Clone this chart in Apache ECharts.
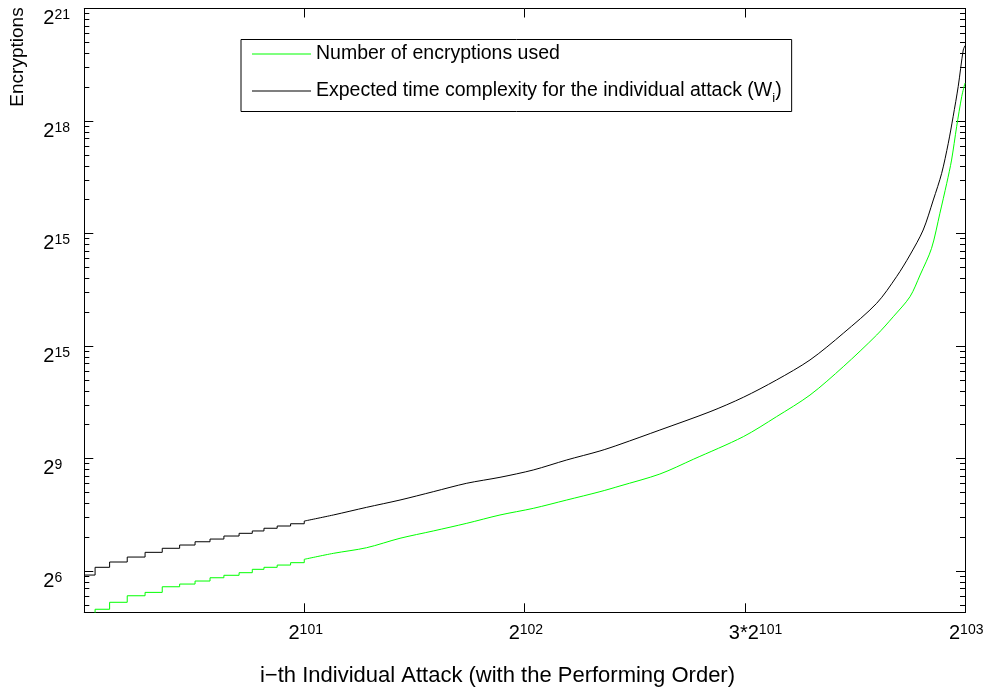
<!DOCTYPE html>
<html>
<head>
<meta charset="utf-8">
<script src="https://cdn.jsdelivr.net/npm/echarts@6/dist/echarts.min.js"></script>
<style>
  html, body { margin: 0; padding: 0; background: #fff; }
  #chart { width: 995px; height: 698px; }
</style>
</head>
<body>
<div id="chart"></div>
<script>
// x is in units of 2^101, y is in decades of the log axis (tick 1 = "2^6" ... tick 6 = "2^21")
const stepX = [0, 0.049, 0.115, 0.195, 0.276, 0.354, 0.433, 0.503, 0.571, 0.634, 0.703, 0.763, 0.816, 0.876, 0.937, 0.999];
const expectedSteps = [0.964, 1.033, 1.080, 1.124, 1.166, 1.202, 1.231, 1.260, 1.284, 1.311, 1.335, 1.356, 1.380, 1.400, 1.420, 1.444];
const usedSteps = [0.600, 0.660, 0.722, 0.780, 0.810, 0.860, 0.884, 0.911, 0.940, 0.962, 0.985, 1.015, 1.033, 1.053, 1.074, 1.104];

const expectedX = [0.999, 1.131, 1.282, 1.434, 1.585, 1.737, 1.888, 2.039, 2.191, 2.342, 2.433, 2.614, 2.842, 2.993, 3.144, 3.296, 3.447, 3.599, 3.689, 3.750, 3.810, 3.856, 3.894, 3.924, 3.946, 3.969, 3.992, 4.0];
const expectedCurve = [1.444, 1.498, 1.566, 1.631, 1.705, 1.780, 1.833, 1.898, 1.987, 2.067, 2.126, 2.253, 2.416, 2.544, 2.698, 2.876, 3.113, 3.380, 3.616, 3.809, 4.031, 4.298, 4.535, 4.802, 5.038, 5.305, 5.631, 5.670];

const usedX = [0.999, 1.131, 1.282, 1.434, 1.585, 1.737, 1.888, 2.039, 2.191, 2.342, 2.433, 2.614, 2.766, 2.993, 3.144, 3.296, 3.447, 3.599, 3.674, 3.750, 3.796, 3.848, 3.886, 3.917, 3.939, 3.962, 3.985, 4.0];
const usedCurve = [1.104, 1.157, 1.207, 1.291, 1.356, 1.424, 1.498, 1.557, 1.631, 1.705, 1.756, 1.862, 1.993, 2.194, 2.372, 2.564, 2.816, 3.098, 3.260, 3.438, 3.631, 3.868, 4.180, 4.446, 4.653, 4.949, 5.216, 5.338];

const yTickValues = [1, 2, 3, 4, 5, 6];
const yTickExp = ['6', '9', '15', '15', '18', '21'];
const xTickValues = [1, 2, 3, 4];
const xTickBase = ['2', '2', '3*2', '2'];
const xTickExp = ['101', '102', '101', '103'];

const usedName = 'Number of encryptions used';
const expectedName = 'Expected time complexity for the individual attack (Wi)';

const yMin = 0.633, yMax = 6;
const font = '"Liberation Sans", Arial, Helvetica, sans-serif';

// minor ticks of a base-10 log axis
const yMinor = [];
for (let k = 0; k < 6; k++) {
  for (let n = 2; n <= 9; n++) {
    const v = k + Math.log10(n);
    if (v > yMin && v < yMax) yMinor.push(v);
  }
}

const pair = (xs, ys) => xs.map((x, i) => [x, ys[i]]);

const tickRich = {
  b: { fontSize: 20, lineHeight: 20, padding: [5, 0, 0, 0], fontFamily: font, color: '#000', verticalAlign: 'bottom' },
  sup: { fontSize: 14, lineHeight: 14, fontFamily: font, color: '#000', verticalAlign: 'top' }
};

const line = { show: true, onZero: false, lineStyle: { color: '#000', width: 1 } };

function yAxis(pos, ticks, len, labels) {
  return {
    type: 'value', position: pos, min: yMin, max: yMax,
    axisLine: line,
    splitLine: { show: false },
    axisTick: { show: true, inside: true, length: len, customValues: ticks, lineStyle: { color: '#000' } },
    axisLabel: labels ? {
      show: true, customValues: yTickValues, align: 'left', verticalAlign: 'top', margin: 41,
      rich: tickRich,
      formatter: v => '{b|2}{sup|' + yTickExp[yTickValues.indexOf(v)] + '}'
    } : { show: false }
  };
}

function xAxis(pos, labels) {
  return {
    type: 'value', position: pos, min: 0, max: 4,
    axisLine: line,
    splitLine: { show: false },
    axisTick: { show: true, inside: true, length: 9, customValues: xTickValues, lineStyle: { color: '#000' } },
    axisLabel: labels ? {
      show: true, customValues: xTickValues, align: 'left', margin: 11,
      padding: [0, 0, 0, -16], rich: tickRich,
      formatter: v => {
        const i = xTickValues.indexOf(v);
        return '{b|' + xTickBase[i] + '}{sup|' + xTickExp[i] + '}';
      }
    } : { show: false }
  };
}

const chart = echarts.init(document.getElementById('chart'));
chart.setOption({
  animation: false,
  backgroundColor: '#fff',
  grid: { left: 84.3, right: 30, top: 8.5, bottom: 85.7, containLabel: false },
  xAxis: [xAxis('bottom', true), xAxis('top', false)],
  yAxis: [
    yAxis('left', yTickValues, 9, true),
    yAxis('right', yTickValues, 9, false),
    yAxis('left', yMinor, 5, false),
    yAxis('right', yMinor, 5, false)
  ],
  legend: {
    left: 241, top: 39.5, orient: 'vertical',
    borderColor: '#000', borderWidth: 1,
    padding: [1, 10, 7, 11],
    icon: 'rect', itemWidth: 59, itemHeight: 1.2, itemGap: 10,
    data: [
      { name: usedName, itemStyle: { color: '#00ff00' } },
      { name: expectedName, itemStyle: { color: '#000' } }
    ],
    textStyle: {
      fontFamily: font, fontSize: 19.5, lineHeight: 27, color: '#000',
      rich: { sub: { fontFamily: font, fontSize: 13, lineHeight: 13, padding: [14, 0, 0, 0], color: '#000' } }
    },
    formatter: name => name === expectedName ? name.replace('(Wi)', '(W{sub|i})') : name
  },
  graphic: [
    { type: 'text', x: 17.5, y: 57, rotation: Math.PI / 2,
      style: { text: 'Encryptions', font: '19px ' + font, fill: '#000', align: 'center', verticalAlign: 'middle' } },
    { type: 'text', x: 497.5, y: 676,
      style: { text: 'i\u2212th Individual Attack (with the Performing Order)', font: '22px ' + font, fill: '#000', align: 'center', verticalAlign: 'middle' } }
  ],
  series: [
    { name: usedName, type: 'line', step: 'end', symbol: 'none', data: pair(stepX, usedSteps),
      lineStyle: { color: '#00ff00', width: 1 }, itemStyle: { color: '#00ff00' } },
    { name: usedName, type: 'line', symbol: 'none', smooth: 0.3, data: pair(usedX, usedCurve),
      lineStyle: { color: '#00ff00', width: 1 }, itemStyle: { color: '#00ff00' } },
    { name: expectedName, type: 'line', step: 'end', symbol: 'none', data: pair(stepX, expectedSteps),
      lineStyle: { color: '#000', width: 1 }, itemStyle: { color: '#000' } },
    { name: expectedName, type: 'line', symbol: 'none', smooth: 0.3, data: pair(expectedX, expectedCurve),
      lineStyle: { color: '#000', width: 1 }, itemStyle: { color: '#000' } }
  ]
});
</script>
</body>
</html>
